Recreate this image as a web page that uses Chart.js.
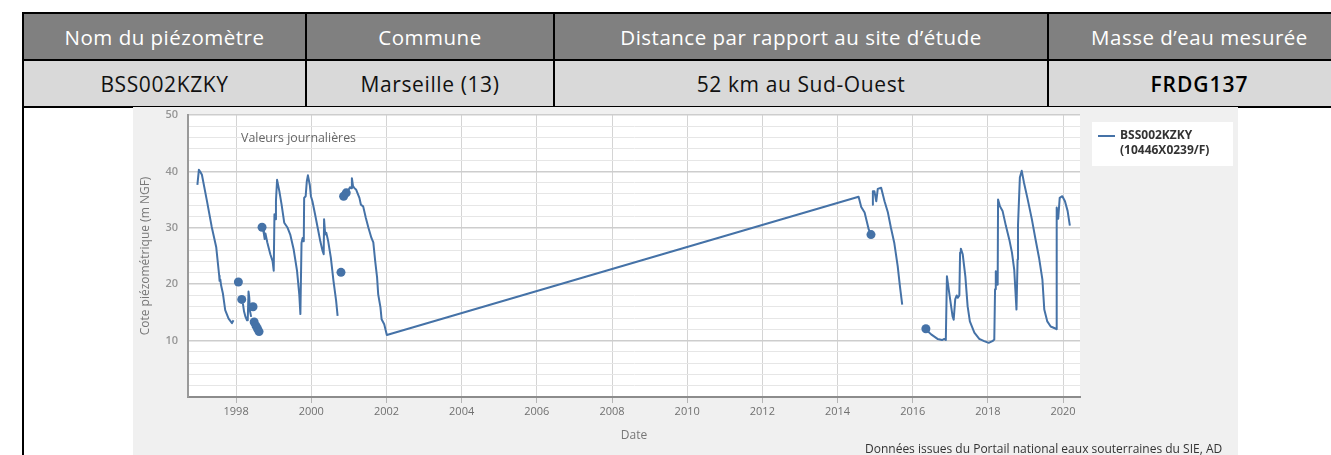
<!DOCTYPE html>
<html>
<head>
<meta charset="utf-8">
<title>Piézomètre BSS002KZKY</title>
<script src="https://cdn.jsdelivr.net/npm/chart.js@4.4.1/dist/chart.umd.min.js"></script>
<style>
  html, body { margin: 0; padding: 0; background: #fff; overflow: hidden; }
  table.info {
    position: absolute; left: 22px; top: 12px;
    border-collapse: collapse; table-layout: fixed; width: 1328px;
    font-family: "Open Sans", sans-serif;
  }
  table.info td { border: 2px solid #000; text-align: center; padding: 0; white-space: nowrap; }
  tr.head td { background: #808080; color: #fff; height: 45px; font-size: 20.5px; letter-spacing: 0.5px; }
  tr.vals td { background: #d9d9d9; color: #111; height: 45px; font-size: 21px; letter-spacing: 0.6px; }
  tr.vals td.mass { font-weight: 600; color: #000; letter-spacing: 1px; }
  tr.graph td { background: #fff; height: 400px; }
  #chartBox { position: absolute; left: 133px; top: 107px; width: 1105px; height: 360px; background: #f0f0f0; }
</style>
</head>
<body>
<table class="info">
  <colgroup>
    <col style="width:283px"><col style="width:248px"><col style="width:494px"><col style="width:303px">
  </colgroup>
  <tr class="head">
    <td>Nom du piézomètre</td><td>Commune</td><td>Distance par rapport au site d’étude</td><td>Masse d’eau mesurée</td>
  </tr>
  <tr class="vals">
    <td>BSS002KZKY</td><td>Marseille (13)</td><td>52 km au Sud-Ouest</td><td class="mass">FRDG137</td>
  </tr>
  <tr class="graph"><td colspan="4"></td></tr>
</table>
<div id="chartBox"><canvas id="levelChart" width="1105" height="360"></canvas></div>

<script>
// daily groundwater level, decimal years / m NGF (null = no measurement, breaks the line)
const dates = [
  1996.97, 1997.01, 1997.05, 1997.09, 1997.22, 1997.35, 1997.47, 1997.55, 1997.56, 1997.58,
  1997.60, 1997.65, 1997.71, 1997.80, 1997.89, 1997.93, 1997.98,
  1998.06, 1998.10, 1998.15, 1998.165,
  1998.18, 1998.21, 1998.25, 1998.29, 1998.31, 1998.33, 1998.35, 1998.37, 1998.40, 1998.42,
  1998.45, 1998.465, 1998.48, 1998.505, 1998.53, 1998.55, 1998.57, 1998.59, 1998.61, 1998.65,
  1998.69, 1998.705,
  1998.72, 1998.74, 1998.76, 1998.78, 1998.83, 1998.91, 1998.97, 1999.00, 1999.02, 1999.04,
  1999.06, 1999.09, 1999.15, 1999.21, 1999.28, 1999.37, 1999.44, 1999.53, 1999.62, 1999.68,
  1999.71, 1999.74, 1999.77, 1999.80, 1999.81, 1999.85, 1999.88, 1999.91, 1999.96, 1999.99,
  2000.03, 2000.10, 2000.17, 2000.24, 2000.30, 2000.33, 2000.34, 2000.37, 2000.40, 2000.45,
  2000.52, 2000.59, 2000.66, 2000.70, 2000.75,
  2000.79, 2000.83, 2000.86, 2000.90, 2000.93, 2000.96,
  2000.99, 2001.03, 2001.06, 2001.08, 2001.11, 2001.15, 2001.19, 2001.28, 2001.32, 2001.38,
  2001.45, 2001.52, 2001.60, 2001.65, 2001.70, 2001.75, 2001.78, 2001.84, 2001.87, 2001.94,
  2002.01, 2014.56, 2014.63, 2014.72, 2014.83, 2014.86, 2014.875,
  2014.89, 2014.905,
  2014.92, 2014.94, 2014.98, 2015.03, 2015.07, 2015.16, 2015.25, 2015.34, 2015.42, 2015.51,
  2015.60, 2015.66, 2015.72, 2016.00,
  2016.35, 2016.365,
  2016.38, 2016.49, 2016.66, 2016.78, 2016.84, 2016.88, 2016.91, 2016.97, 2017.06, 2017.09,
  2017.13, 2017.17, 2017.20, 2017.24, 2017.26, 2017.28, 2017.33, 2017.40, 2017.46, 2017.52,
  2017.64, 2017.77, 2017.90, 2018.02, 2018.12, 2018.17, 2018.19, 2018.21, 2018.24, 2018.26,
  2018.27, 2018.32, 2018.39, 2018.48, 2018.57, 2018.64, 2018.70, 2018.76, 2018.79, 2018.80,
  2018.85, 2018.90, 2018.96, 2019.05, 2019.17, 2019.26, 2019.36, 2019.45, 2019.50, 2019.58,
  2019.67, 2019.81, 2019.82, 2019.83, 2019.87, 2019.91, 2019.98, 2020.05, 2020.12, 2020.18
];
const levels = [
  37.6, 40.3, 39.9, 39.4, 34.9, 30.2, 26.6, 21.5, 20.6, 20.8,
  19.8, 18.3, 15.4, 13.9, 13.1, 13.6, null,
  20.4, null, 17.3, null,
  16.6, 15.2, 14.2, 13.6, 13.8, 18.7, 17.6, 15.2, 14.2, null,
  16.0, null, 13.3, null, 12.6, null, 12.1, null, 11.6, null,
  30.1, null,
  29.6, 28.9, 28.0, 29.0, 27.4, 25.3, 24.1, 22.4, 32.4, 31.5,
  34.8, 38.5, 36.5, 34.1, 30.9, 30.0, 28.8, 26.2, 22.4, 18.2,
  14.7, 27.3, 28.2, 27.6, 35.3, 35.6, 38.2, 39.3, 37.6, 35.6,
  34.7, 32.4, 30.0, 27.6, 25.9, 25.3, 31.5, 28.8, 29.1, 27.6,
  24.7, 20.6, 17.1, 14.4, null,
  22.1, null, 35.6, null, 36.2, null,
  36.7, 37.2, 37.0, 38.8, 37.4, 37.0, 36.8, 35.3, 34.1, 33.8,
  31.8, 30.0, 28.2, 27.4, 24.1, 21.2, 18.2, 15.9, 13.8, 12.9,
  11.0, 35.5, 33.7, 32.7, 29.7, 29.3, null,
  28.8, null,
  34.1, 36.5, 36.5, 34.7, 36.9, 37.1, 34.7, 32.7, 30.0, 27.3,
  23.2, 19.6, 16.4, null,
  12.1, null,
  11.8, 11.1, 10.3, 10.1, 10.3, 10.1, 21.4, 18.5, 14.3, 13.7,
  17.3, 18.0, 17.6, 18.0, 25.6, 26.3, 25.3, 21.4, 16.1, 13.4,
  11.4, 10.3, 9.9, 9.6, 9.9, 10.2, 19.1, 22.3, 20.0, 19.9,
  35.0, 33.8, 33.0, 30.3, 27.9, 25.6, 22.6, 15.5, 24.4, 30.3,
  38.9, 40.1, 38.0, 35.3, 31.5, 28.2, 24.7, 20.8, 15.5, 13.4,
  12.5, 12.1, 12.0, 33.6, 31.6, 35.3, 35.6, 34.7, 33.0, 30.4
];

const seriesName = ['BSS002KZKY', '(10446X0239/F)'];
const subtitle = 'Valeurs journalières';
const credits = 'Données issues du Portail national eaux souterraines du SIE, ADES';
const lineColor = '#4572a7';

// a lone measurement between two gaps gets a dot, like the original tool
function isolated(i) {
  return levels[i] != null && levels[i - 1] == null && levels[i + 1] == null;
}

const decorations = {
  id: 'decorations',
  beforeDraw(chart) {
    const { ctx, chartArea: a } = chart;
    ctx.save();
    ctx.fillStyle = '#fff';
    ctx.fillRect(a.left, a.top, a.right - a.left, a.bottom - a.top);
    ctx.restore();
  },
  afterDraw(chart) {
    const { ctx, chartArea: a } = chart;
    ctx.save();
    // subtitle inside plot
    ctx.font = '12.4px "Open Sans"';
    ctx.fillStyle = '#666';
    ctx.textBaseline = 'middle';
    ctx.fillText(subtitle, a.left + 53, 31);

    // legend box
    const lx = a.right + 12, ly = 15;
    ctx.fillStyle = '#fff';
    ctx.fillRect(lx, ly, 141, 44);
    ctx.strokeStyle = lineColor;
    ctx.lineWidth = 2;
    ctx.beginPath();
    ctx.moveTo(lx + 6, ly + 14);
    ctx.lineTo(lx + 23, ly + 14);
    ctx.stroke();
    ctx.font = '700 12px "Open Sans"';
    ctx.fillStyle = '#333';
    ctx.fillText(seriesName[0], lx + 28, ly + 14);
    ctx.fillText(seriesName[1], lx + 28, ly + 29);

    // credits, cut at the right edge of the picture
    ctx.beginPath();
    ctx.rect(0, 300, 1089, 60);
    ctx.clip();
    ctx.font = '12px "Open Sans"';
    ctx.fillStyle = '#333';
    ctx.fillText(credits, 732, 343);
    ctx.restore();
  }
};

new Chart(document.getElementById('levelChart'), {
  type: 'line',
  data: {
    datasets: [{
      label: seriesName.join(' '),
      data: dates.map((d, i) => ({ x: d, y: levels[i] })),
      borderColor: lineColor,
      backgroundColor: lineColor,
      borderWidth: 2,
      borderJoinStyle: 'round',
      tension: 0,
      spanGaps: false,
      pointRadius: ctx => isolated(ctx.dataIndex) ? 4.5 : 0,
      pointHoverRadius: ctx => isolated(ctx.dataIndex) ? 4.5 : 0,
      pointBorderWidth: 0,
      pointBackgroundColor: lineColor
    }]
  },
  options: {
    responsive: false,
    animation: false,
    layout: { padding: { left: 0, top: 8, right: 158, bottom: 0 } },
    plugins: { legend: { display: false }, tooltip: { enabled: false } },
    scales: {
      x: {
        type: 'linear',
        min: 1996.72,
        max: 2020.45,
        afterFit: s => { s.height = 70; },
        ticks: {
          stepSize: 2,
          includeBounds: false,
          maxRotation: 0,
          padding: 2,
          color: '#707070',
          font: { family: 'Open Sans', size: 11 },
          callback: v => String(v)
        },
        grid: { color: '#d4d4d4', tickColor: '#b4b4b4', tickLength: 6, lineWidth: 1 },
        border: { color: '#8c8c8c', width: 2 },
        title: {
          display: true, text: 'Date', color: '#777',
          font: { family: 'Open Sans', size: 12 },
          padding: { top: 0, bottom: 24 }
        }
      },
      y: {
        min: 0,
        max: 50,
        afterFit: s => { s.width = 55; },
        ticks: {
          stepSize: 2,
          autoSkip: false,
          padding: 0,
          color: '#959595',
          font: { family: 'Open Sans', size: 11, weight: '600' },
          callback: v => (v > 0 && v % 10 === 0) ? String(v) : ''
        },
        grid: {
          // invisible tick marks keep the labels clear of the axis
          tickLength: 10,
          tickColor: 'rgba(0,0,0,0)',
          color: c => c.tick.value % 10 === 0 ? '#cdcdcd' : '#e6e6e6',
          lineWidth: c => c.tick.value % 10 === 0 ? 1.5 : 1
        },
        border: { color: '#9a9a9a', width: 2 },
        title: {
          display: true, text: 'Cote piézométrique (m NGF)', color: '#777',
          font: { family: 'Open Sans', size: 12 },
          padding: { top: 5, bottom: 0 }
        }
      }
    }
  },
  plugins: [decorations]
});
</script>
</body>
</html>
